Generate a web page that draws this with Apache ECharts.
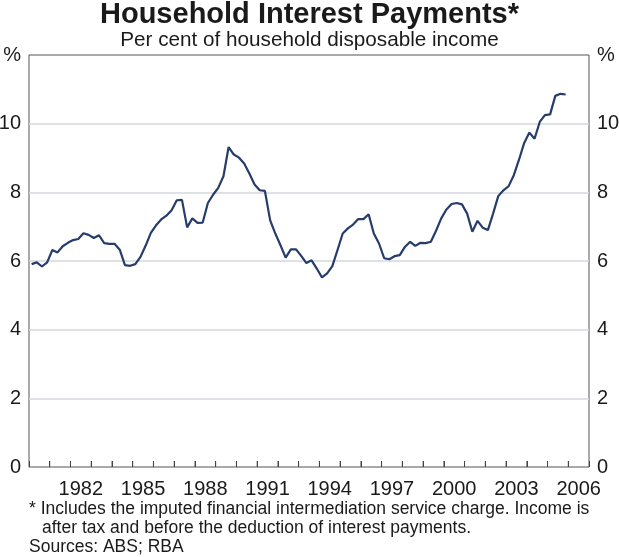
<!DOCTYPE html>
<html><head><meta charset="utf-8">
<script src="https://cdn.jsdelivr.net/npm/echarts@6/dist/echarts.min.js"></script>
<style>html,body{margin:0;padding:0;background:#fff}#c{width:619px;height:557px}</style>
</head><body><div id="c"></div><script>
// Quarterly household interest payments, per cent of disposable income, 1980 Q1 – 2005 Q4
const startYear = 1980;
const endYear = 2007;
const interestPayments = [
  5.91, 5.96, 5.84, 5.96,   // 1980
  6.32, 6.25, 6.43, 6.53,   // 1981
  6.61, 6.64, 6.81, 6.76,   // 1982
  6.67, 6.75, 6.52, 6.50,   // 1983
  6.50, 6.33, 5.88, 5.86,   // 1984
  5.91, 6.12, 6.45, 6.82,   // 1985
  7.04, 7.21, 7.32, 7.48,   // 1986
  7.77, 7.78, 6.98, 7.24,   // 1987
  7.11, 7.12, 7.69, 7.93,   // 1988
  8.13, 8.47, 9.32, 9.10,   // 1989
  9.01, 8.84, 8.55, 8.23,   // 1990
  8.06, 8.04, 7.19, 6.80,   // 1991
  6.46, 6.10, 6.34, 6.34,   // 1992
  6.15, 5.94, 6.02, 5.78,   // 1993
  5.52, 5.64, 5.85, 6.32,   // 1994
  6.80, 6.95, 7.06, 7.22,   // 1995
  7.22, 7.36, 6.80, 6.51,   // 1996
  6.08, 6.05, 6.14, 6.17,   // 1997
  6.41, 6.56, 6.44, 6.53,   // 1998
  6.52, 6.56, 6.88, 7.24,   // 1999
  7.50, 7.66, 7.69, 7.65,   // 2000
  7.38, 6.85, 7.17, 6.97,   // 2001
  6.90, 7.38, 7.89, 8.06,   // 2002
  8.18, 8.50, 8.95, 9.44,   // 2003
  9.74, 9.56, 10.05, 10.25, // 2004
  10.27, 10.81, 10.87, 10.85 // 2005
];
const yearCategories = [];
for (let y = startYear; y < endYear; y++) yearCategories.push(String(y));
const labelYears = ['1982','1985','1988','1991','1994','1997','2000','2003','2006'];
const yMin = 0, yMax = 12, yStep = 2;

const seriesData = interestPayments.map((v, i) => [startYear + i / 4 + 0.125, v]);
// year-boundary tick marks on the bottom axis (start of each year after the first)
const tickData = yearCategories.slice(1).map(y => [Number(y), yMin]);

const font = 'Liberation Sans, Arial, sans-serif';
const txt = '#1a1a1a';
const yLabel = {
  fontSize: 20, color: txt, fontFamily: font, margin: 8,
  formatter: v => (v === yMax ? '%' : String(v))
};
const note = {fontSize: 17.5, fontWeight: 'normal', color: txt, fontFamily: font, lineHeight: 17};

const chart = echarts.init(document.getElementById('c'), null, {renderer: 'canvas'});
chart.setOption({
  backgroundColor: '#fff',
  animation: false,
  title: [
    {text: 'Household Interest Payments*', left: 'center', top: 0, padding: 0,
     textStyle: {fontSize: 29, fontWeight: 'bold', color: txt, fontFamily: font, lineHeight: 29}},
    {text: 'Per cent of household disposable income', left: 'center', top: 30, padding: 0,
     textStyle: {fontSize: 20.7, fontWeight: 'normal', color: txt, fontFamily: font, lineHeight: 21}},
    {text: '* Includes the imputed financial intermediation service charge. Income is', left: 29, top: 501, padding: 0, textStyle: note},
    {text: 'after tax and before the deduction of interest payments.', left: 42, top: 520, padding: 0, textStyle: note},
    {text: 'Sources: ABS; RBA', left: 29, top: 539, padding: 0, textStyle: note}
  ],
  grid: {left: 29, right: 30, top: 55, bottom: 90, show: true, borderColor: '#555', borderWidth: 1,
         backgroundColor: 'transparent', containLabel: false, outerBoundsMode: 'none'},
  xAxis: [
    {type: 'value', min: startYear, max: endYear, interval: 1, position: 'bottom',
     axisLine: {show: false}, axisTick: {show: true, inside: true, length: 6, lineStyle: {color: '#444'}},
     axisLabel: {show: false}, splitLine: {show: false}},
    {type: 'category', data: yearCategories, boundaryGap: true, position: 'bottom',
     axisLine: {show: false}, axisTick: {show: false},
     axisLabel: {interval: (idx, val) => labelYears.indexOf(val) >= 0, fontSize: 20, color: txt, fontFamily: font, margin: 12},
     splitLine: {show: false}}
  ],
  yAxis: [
    {type: 'value', min: yMin, max: yMax, interval: yStep, position: 'left',
     axisLine: {show: false}, axisTick: {show: false}, axisLabel: yLabel,
     splitLine: {show: true, showMinLine: false, showMaxLine: false, lineStyle: {color: '#d3d7dc', width: 1.5}}},
    {type: 'value', min: yMin, max: yMax, interval: yStep, position: 'right',
     axisLine: {show: false}, axisTick: {show: false}, axisLabel: yLabel, splitLine: {show: false}}
  ],
  series: [
    {type: 'line', xAxisIndex: 0, yAxisIndex: 0, data: seriesData,
     showSymbol: false, symbol: 'none', lineStyle: {color: '#263d6b', width: 2.2}},
    {type: 'scatter', xAxisIndex: 0, yAxisIndex: 0, data: tickData, silent: true, clip: false, z: 5,
     symbol: 'rect', symbolSize: [1, 6], symbolOffset: [0, -3], itemStyle: {color: '#444'}}
  ]
});
</script></body></html>
